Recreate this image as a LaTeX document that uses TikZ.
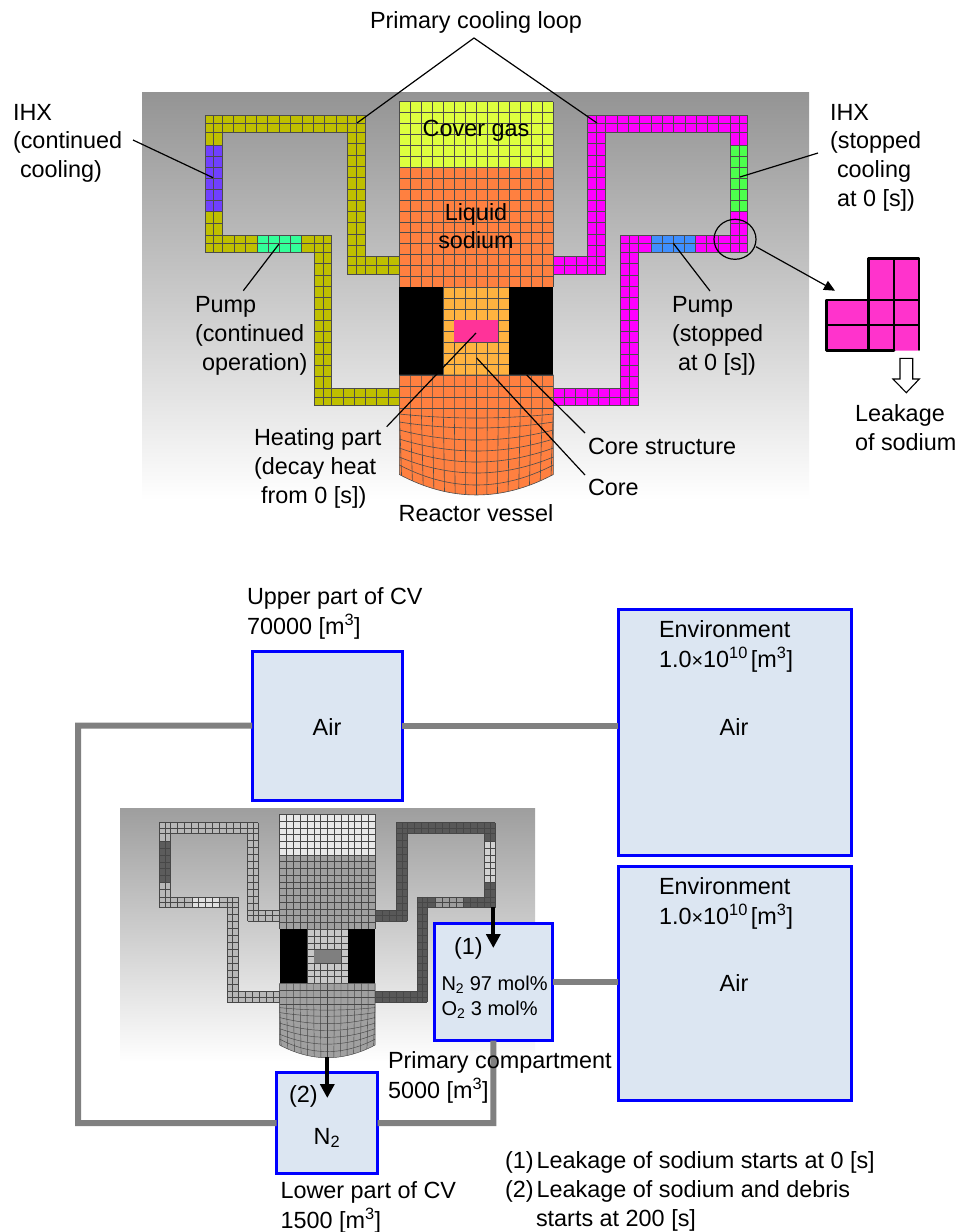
\documentclass[tikz,border=0pt]{standalone}
\usepackage{fontspec}
\setmainfont{Liberation Sans}
\usetikzlibrary{arrows.meta}
\newcommand\lfont{\fontsize{23.4}{28.7}\selectfont}
\newcommand\mfont{\fontsize{20}{25}\selectfont}
\newcommand\smalltimes{\scalebox{0.85}{×}}
\colorlet{gridc}{black!70}
\def\glw{0.6pt}
\colorlet{cGas}{white}\colorlet{cNa}{white}\colorlet{cCore}{white}\colorlet{cHeat}{white}
\colorlet{cLL}{white}\colorlet{cLR}{white}\colorlet{cIL}{white}\colorlet{cIR}{white}\colorlet{cPL}{white}\colorlet{cPR}{white}
\tikzset{
  gridl/.style={draw=gridc,line width=\glw},
  lab/.style={inner sep=0pt,outer sep=0pt,align=left,font=\lfont,anchor=north west,yshift=19.3pt},
  clab/.style={inner sep=0pt,outer sep=0pt,align=center,font=\lfont,anchor=north,yshift=19.3pt},
  leader/.style={draw=black,line width=1.2pt},
  volbox/.style={draw=blue,line width=3pt,fill=boxfill,anchor=north west,inner sep=0pt,outer sep=0pt},
  pipe/.style={draw=linegrey,line width=6pt},
  drop/.style={draw=black,line width=4pt,-{Triangle[length=14pt,width=14pt]}},
}
\definecolor{boxfill}{HTML}{DCE6F2}
\definecolor{linegrey}{HTML}{808080}
\newcommand\gridbox[7]{%
  \fill[#7] (#1,#2) rectangle (#3,#4);
  \foreach \i in {0,...,#5}{\pgfmathsetmacro\xx{#1+(#3-#1)*\i/#5}\draw[gridl] (\xx,#2) -- (\xx,#4);}
  \foreach \j in {0,...,#6}{\pgfmathsetmacro\yy{#2+(#4-#2)*\j/#6}\draw[gridl] (#1,\yy) -- (#3,\yy);}
}
\newcommand\reactor{%
  % left loop
  \gridbox{205}{115}{222.3}{132.3}{2}{2}{cLL}
  \gridbox{222.3}{115}{347.3}{132.3}{11}{2}{cLL}
  \gridbox{347.3}{115}{365}{132.3}{2}{2}{cLL}
  \gridbox{347.3}{132.3}{365}{256.7}{2}{11}{cLL}
  \gridbox{347.3}{256.7}{365}{274.3}{2}{2}{cLL}
  \gridbox{365}{256.7}{399.3}{274.3}{3}{2}{cLL}
  \gridbox{205}{132.3}{222.3}{145.7}{2}{1}{cLL}
  \gridbox{205}{145.7}{222.3}{211}{2}{6}{cIL}
  \gridbox{205}{211}{222.3}{235}{2}{2}{cLL}
  \gridbox{205}{235}{222.3}{252.3}{2}{2}{cLL}
  \gridbox{222.3}{235}{257.3}{252.3}{3}{2}{cLL}
  \gridbox{257.3}{235}{301.3}{252.3}{4}{2}{cPL}
  \gridbox{301.3}{235}{314.3}{252.3}{1}{2}{cLL}
  \gridbox{314.3}{235}{331.7}{252.3}{2}{2}{cLL}
  \gridbox{314.3}{252.3}{331.7}{388}{2}{12}{cLL}
  \gridbox{314.3}{388}{331.7}{405.7}{2}{2}{cLL}
  \gridbox{331.7}{388}{399.3}{405.7}{6}{2}{cLL}
  % right loop
  \gridbox{553.3}{256.7}{587.3}{274.3}{3}{2}{cLR}
  \gridbox{587.3}{256.7}{605.7}{274.3}{2}{2}{cLR}
  \gridbox{587.3}{132.3}{605.7}{256.7}{2}{11}{cLR}
  \gridbox{587.3}{115}{605.7}{132.3}{2}{2}{cLR}
  \gridbox{605.7}{115}{730}{132.3}{11}{2}{cLR}
  \gridbox{730}{115}{747.7}{132.3}{2}{2}{cLR}
  \gridbox{730}{132.3}{747.7}{145.7}{2}{1}{cLR}
  \gridbox{730}{145.7}{747.7}{211}{2}{6}{cIR}
  \gridbox{730}{211}{747.7}{235}{2}{2}{cLR}
  \gridbox{730}{235}{747.7}{252.3}{2}{2}{cLR}
  \gridbox{695}{235}{730}{252.3}{3}{2}{cLR}
  \gridbox{651}{235}{695}{252.3}{4}{2}{cPR}
  \gridbox{638}{235}{651}{252.3}{1}{2}{cLR}
  \gridbox{620.7}{235}{638}{252.3}{2}{2}{cLR}
  \gridbox{620.7}{252.3}{638}{388}{2}{12}{cLR}
  \gridbox{620.7}{388}{638}{405.7}{2}{2}{cLR}
  \gridbox{553.3}{388}{620.7}{405.7}{6}{2}{cLR}
  % vessel
  \gridbox{399.3}{101.7}{553.3}{167.3}{14}{6}{cGas}
  \gridbox{399.3}{167.3}{553.3}{287.3}{14}{11}{cNa}
  \gridbox{443.3}{287.3}{509.3}{375}{6}{8}{cCore}
  \fill[cHeat] (454.3,320.3) rectangle (498.3,342);
  \fill[black] (399.3,287.3) rectangle (443.3,375);
  \fill[black] (509.3,287.3) rectangle (553.3,375);
  % lower head
  \fill[cNa] (399.3,375) -- (553.3,375) -- (553.3,474.5) .. controls (502,501.8) and (450.6,501.8) .. (399.3,474.5) -- cycle;
  \begin{scope}
    \clip (399.3,375) -- (553.3,375) -- (553.3,474.5) .. controls (502,501.8) and (450.6,501.8) .. (399.3,474.5) -- cycle;
    \foreach \k in {0,...,14}{
      \pgfmathsetmacro\xt{399.3+11*\k}
      \pgfmathsetmacro\xb{476.3+(\xt-476.3)*0.96}
      \draw[gridl] (\xt,375) -- (\xt,409) -- (\xb,500);
    }
    \foreach \yr in {375,386,397,408}{\draw[gridl] (399.3,\yr) -- (553.3,\yr);}
    \foreach \ye/\yc in {414/418,422/428,430/440,439/451,448/462,457/473,465/485}{
      \pgfmathsetmacro\cy{\ye+4/3*(\yc-\ye)}
      \draw[gridl] (399.3,\ye) .. controls (450.6,\cy) and (502,\cy) .. (553.3,\ye);
    }
  \end{scope}
  \draw[gridl] (399.3,375) -- (553.3,375) -- (553.3,474.5) .. controls (502,501.8) and (450.6,501.8) .. (399.3,474.5) -- cycle;
}
\begin{document}
\begin{tikzpicture}[x=1pt,y=-1pt]
  \useasboundingbox (0,0) rectangle (959,1232);
  \fill[white] (0,0) rectangle (959,1232);
  % ---------- top model
  \shade[top color=black!42,bottom color=white] (142,92) rectangle (809,500);
  \begin{scope}
    \definecolor{cGas}{HTML}{DDFF3F}\definecolor{cNa}{HTML}{FF8040}\definecolor{cCore}{HTML}{FFB340}
    \definecolor{cHeat}{HTML}{FF3399}\definecolor{cLL}{HTML}{BFBF00}\definecolor{cLR}{HTML}{FF00FF}
    \definecolor{cIL}{HTML}{7040FF}\definecolor{cIR}{HTML}{4DFF4D}\definecolor{cPL}{HTML}{33FF99}\definecolor{cPR}{HTML}{3F8FFF}
    \reactor
  \end{scope}
  % labels on the model
  \node[clab] (title) at (476,28) {\strut Primary cooling loop};
  \node[clab] (gas) at (476,135.7) {\strut Cover gas};
  \node[clab] (sodium) at (476,219.3) {\strut Liquid\\sodium};
  \node[lab] (ihxl) at (13,119.5) {\strut IHX\\(continued\\\hspace{7pt}cooling)};
  \node[lab] (ihxr) at (830,119.5) {\strut IHX\\(stopped\\\hspace{7pt}cooling\\\hspace{7pt}at 0 [s])};
  \node[lab] (pumpl) at (195,312) {\strut Pump\\(continued\\\hspace{7pt}operation)};
  \node[lab] (pumpr) at (672,312) {\strut Pump\\(stopped\\\hspace{6pt}at 0 [s])};
  \node[lab] (heat) at (254,445) {\strut Heating part\\(decay heat\\\hspace{7pt}from 0 [s])};
  \node[lab] (cstruct) at (588,453.5) {\strut Core structure};
  \node[lab] (core) at (588,495) {\strut Core};
  \node[clab] (vessel) at (476,520.5) {\strut Reactor vessel};
  \node[lab] (leak) at (855,421) {\strut Leakage\\of sodium};
  % leader lines
  \coordinate (v) at (474,38);
  \coordinate (vl) at (357,123);
  \coordinate (vr) at (597,123);
  \draw[leader] (vl) -- (v) -- (vr);
  \coordinate (il1) at (133,140); \coordinate (il2) at (213,177.7);
  \draw[leader] (il1) -- (il2);
  \coordinate (ir1) at (818,153); \coordinate (ir2) at (740,177);
  \draw[leader] (ir1) -- (ir2);
  \coordinate (pl1) at (279,244); \coordinate (pl2) at (243.3,290.7);
  \draw[leader] (pl1) -- (pl2);
  \coordinate (pr1) at (673.3,243.3); \coordinate (pr2) at (710,291);
  \draw[leader] (pr1) -- (pr2);
  \coordinate (h1) at (476,333); \coordinate (h2) at (386.7,426.7);
  \draw[leader] (h1) -- (h2);
  \coordinate (c1) at (476.7,358); \coordinate (c2) at (585,475);
  \draw[leader] (c1) -- (c2);
  \coordinate (s1) at (526.7,375); \coordinate (s2) at (585,433);
  \draw[leader] (s1) -- (s2);
  % leak detail
  \draw[black,line width=1.2pt] (735,239.3) ellipse (21pt and 20pt);
  \coordinate (la) at (756,246.7); \coordinate (lb) at (835,290.7);
  \draw[leader,-{Triangle[length=11pt,width=10pt]}] (la) -- (lb);
  \fill[rounded corners=1.5pt,fill={rgb,255:red,255;green,51;blue,204}] (826.7,300) -- (868.3,300) -- (868.3,258.3) -- (919,258.3) -- (919,350.7) -- (826.7,350.7) -- cycle;
  \draw[black,line width=2.6pt,line join=round,line cap=round] (894,350.7) -- (826.7,350.7) -- (826.7,300) -- (868.3,300) -- (868.3,258.3) -- (919,258.3) -- (919,349.7);
  \draw[black,line width=2.6pt] (868.3,300) -- (868.3,350.7) (894,258.3) -- (894,350.7) (826.7,325) -- (919,325) (868.3,300) -- (919,300);
  \draw[black,line width=1.1pt,fill=white,line join=miter] (900,358.3) -- (912.7,358.3) -- (912.7,379) -- (919.3,379) -- (906.3,392.7) -- (893,379) -- (900,379) -- cycle;
  % ---------- lower schematic
  \shade[top color=black!38,bottom color=white] (120,808) rectangle (535,1062);
  \begin{scope}[shift={(279.7,814.3)},scale=0.619,shift={(-399.3,-101.7)}]
    \def\glw{0.45pt}
    \colorlet{gridc}{black!72}
    \definecolor{cGas}{HTML}{E8E8E8}\definecolor{cNa}{HTML}{A0A0A0}\definecolor{cCore}{HTML}{C8C8C8}
    \definecolor{cHeat}{HTML}{7F7F7F}\definecolor{cLL}{HTML}{B8B8B8}\definecolor{cLR}{HTML}{585858}
    \definecolor{cIL}{HTML}{5C5C5C}\definecolor{cIR}{HTML}{D2D2D2}\definecolor{cPL}{HTML}{E0E0E0}\definecolor{cPR}{HTML}{9C9C9C}
    \reactor
  \end{scope}
  % boxes
  \node[volbox,minimum width=150pt,minimum height=149pt] (upper) at (252,651) {};
  \node[volbox,minimum width=233pt,minimum height=246pt] (envA) at (618,609) {};
  \node[volbox,minimum width=233pt,minimum height=234pt] (envB) at (618,866) {};
  \node[volbox,minimum width=118.7pt,minimum height=117.4pt] (prim) at (434,923.3) {};
  \node[volbox,minimum width=101pt,minimum height=101pt] (lower) at (276.7,1072.7) {};
  % connectors
  \coordinate (p1) at (78,725.5); \coordinate (p2) at (78,1123); \coordinate (p3) at (493.35,1123);
  \draw[pipe,line join=miter] (upper.west) -- (p1) -- (p2) -- (lower.west);
  \draw[pipe] (upper.east) -- (upper.east -| envA.west);
  \draw[pipe] (prim.east) -- (prim.east -| envB.west);
  \draw[pipe,line join=miter] (prim.south) -- (p3) -- (lower.east);
  \coordinate (d1a) at (493.3,907); \coordinate (d1b) at (493.3,948);
  \draw[drop] (d1a) -- (d1b);
  \coordinate (d2a) at (327.3,1057); \coordinate (d2b) at (327.3,1098);
  \draw[drop] (d2a) -- (d2b);
  % box labels
  \node[lab] (tupper) at (247,603.3) {\strut Upper part of CV\\70000 [m\textsuperscript{3}]};
  \node[clab] (airU) at (327,734.3) {\strut Air};
  \node[lab] (tenvA) at (659,637) {\strut Environment\\1.0\smalltimes 10\textsuperscript{10}\hspace{3pt}[m\textsuperscript{3}]};
  \node[clab] (airA) at (734,734.3) {\strut Air};
  \node[lab] (tenvB) at (659,894) {\strut Environment\\1.0\smalltimes 10\textsuperscript{10}\hspace{3pt}[m\textsuperscript{3}]};
  \node[clab] (airB) at (734,991) {\strut Air};
  \node[lab] (one) at (454,954) {\strut (1)};
  \node[lab,font=\mfont,yshift=-1.8pt] (gases) at (441.5,990) {\strut N\textsubscript{2} 97 mol\%\\O\textsubscript{2} 3 mol\%};
  \node[lab] (tprim) at (388,1067.5) {\strut Primary compartment\\5000 [m\textsuperscript{3}]};
  \node[lab] (two) at (289,1102) {\strut (2)};
  \node[clab] (ntwo) at (327,1143.3) {\strut N\textsubscript{2}};
  \node[lab] (tlower) at (280.5,1198) {\strut Lower part of CV\\1500 [m\textsuperscript{3}]};
  \node[lab] (notes) at (505,1168) {\strut (1)\hspace{3pt}Leakage of sodium starts at 0 [s]\\(2)\hspace{3pt}Leakage of sodium and debris\\\hspace{31pt}starts at 200 [s]};
\end{tikzpicture}
\end{document}
